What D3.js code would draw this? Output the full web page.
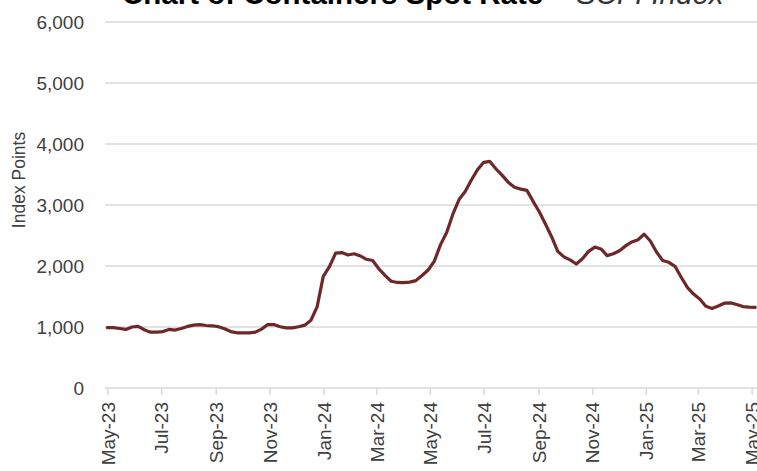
<!DOCTYPE html>
<html>
<head>
<meta charset="utf-8">
<script src="https://cdn.jsdelivr.net/npm/d3@7"></script>
<style>
  html, body { margin: 0; padding: 0; background: #fff; }
  svg { display: block; }
</style>
</head>
<body>
<svg id="chart" width="757" height="471"></svg>
<script>
// ---- Data (SCFI weekly index points) ----
const dates = [
  "2023-05-05","2023-05-12","2023-05-19","2023-05-26","2023-06-02","2023-06-09","2023-06-16","2023-06-23","2023-06-30",
  "2023-07-07","2023-07-14","2023-07-21","2023-07-28","2023-08-04","2023-08-11","2023-08-18","2023-08-25",
  "2023-09-01","2023-09-08","2023-09-15","2023-09-22","2023-09-29","2023-10-06","2023-10-13","2023-10-20","2023-10-27",
  "2023-11-03","2023-11-10","2023-11-17","2023-11-24","2023-12-01","2023-12-08","2023-12-15","2023-12-22","2023-12-29",
  "2024-01-05","2024-01-12","2024-01-19","2024-01-26","2024-02-02","2024-02-09","2024-02-16","2024-02-23",
  "2024-03-01","2024-03-08","2024-03-15","2024-03-22","2024-03-29","2024-04-05","2024-04-12","2024-04-19","2024-04-26",
  "2024-05-03","2024-05-10","2024-05-17","2024-05-24","2024-05-31","2024-06-07","2024-06-14","2024-06-21","2024-06-28",
  "2024-07-05","2024-07-12","2024-07-19","2024-07-26","2024-08-02","2024-08-09","2024-08-16","2024-08-23","2024-08-30",
  "2024-09-06","2024-09-13","2024-09-20","2024-09-27","2024-10-04","2024-10-11","2024-10-18","2024-10-25","2024-11-01",
  "2024-11-08","2024-11-15","2024-11-22","2024-11-29","2024-12-06","2024-12-13","2024-12-20","2024-12-27",
  "2025-01-03","2025-01-10","2025-01-17","2025-01-24","2025-01-31","2025-02-07","2025-02-14","2025-02-21","2025-02-28",
  "2025-03-07","2025-03-14","2025-03-21","2025-03-28","2025-04-04","2025-04-11","2025-04-18","2025-04-25",
  "2025-05-02","2025-05-09"
];
const values = [
  990, 990, 975, 960, 1000, 1010, 955, 915, 915,
  925, 960, 950, 975, 1010, 1030, 1040, 1025,
  1020, 1005, 970, 925, 905, 905, 905, 915, 965,
  1040, 1040, 1005, 985, 985, 1005, 1030, 1110, 1330,
  1830, 1990, 2210, 2220, 2180, 2200, 2165, 2110,
  2090, 1955, 1845, 1750, 1730, 1726, 1735, 1760, 1845,
  1935, 2080, 2350, 2550, 2850, 3090, 3220, 3410, 3580,
  3700, 3715, 3590, 3485, 3370, 3290, 3260, 3240, 3060,
  2890, 2690, 2480, 2240, 2150, 2100, 2033, 2120, 2240,
  2310, 2280, 2170, 2200, 2250, 2330, 2395, 2430,
  2520, 2410, 2230, 2090, 2060, 1995, 1815, 1650, 1540,
  1460, 1340, 1305, 1345, 1390, 1395, 1370, 1335,
  1325, 1323
];
const xTickDates = ["2023-05-05","2023-07-05","2023-09-05","2023-11-05","2024-01-05","2024-03-05",
  "2024-05-05","2024-07-05","2024-09-05","2024-11-05","2025-01-05","2025-03-05","2025-05-05"];
const xTickLabels = ["May-23","Jul-23","Sep-23","Nov-23","Jan-24","Mar-24",
  "May-24","Jul-24","Sep-24","Nov-24","Jan-25","Mar-25","May-25"];
const yTicks = [0, 1000, 2000, 3000, 4000, 5000, 6000];
const titleMain = "Chart of Containers Spot Rate";
const titleSub = " \u2013 SCFI Index";
const yTitle = "Index Points";

// ---- Drawing ----
const parse = d3.timeParse("%Y-%m-%d");
const series = dates.map((d, i) => ({ date: parse(d), value: values[i] }));

const svg = d3.select("#chart");
const font = "'Liberation Sans', Arial, sans-serif";
const textColor = "#404040";
const gridColor = "#d9d9d9";

const x = d3.scaleTime()
  .domain([parse("2023-05-05"), parse("2025-05-05")])
  .range([107.3, 751.7]);
const y = d3.scaleLinear().domain([0, 6000]).range([388, 22]);

// gridlines
svg.append("g").selectAll("line")
  .data(yTicks.filter(t => t > 0))
  .join("line")
  .attr("x1", 105).attr("x2", 757)
  .attr("y1", d => y(d)).attr("y2", d => y(d))
  .attr("stroke", gridColor).attr("stroke-width", 1.5);

// y axis labels
const yAxis = d3.axisLeft(y).tickValues(yTicks).tickFormat(d3.format(",")).tickSize(0).tickPadding(0);
const gy = svg.append("g").attr("transform", "translate(84,0)").call(yAxis);
gy.select(".domain").remove();
gy.selectAll("text")
  .attr("font-family", font).attr("font-size", 19).attr("fill", textColor)
  .attr("dy", "0.36em");

// x axis
const xAxis = d3.axisBottom(x)
  .tickValues(xTickDates.map(parse))
  .tickFormat((d, i) => xTickLabels[i])
  .tickSize(7).tickSizeOuter(0);
const gx = svg.append("g").attr("transform", `translate(0,${y(0)})`).call(xAxis);
gx.select(".domain").attr("d", `M105,0H757`).attr("stroke", gridColor).attr("stroke-width", 1.5);
gx.selectAll(".tick line").attr("stroke", gridColor).attr("stroke-width", 1.5);
gx.selectAll("text")
  .attr("font-family", font).attr("font-size", 19).attr("fill", textColor)
  .attr("text-anchor", "end")
  .attr("transform", "rotate(-90)")
  .attr("x", -14).attr("y", 0).attr("dy", "0.36em");

// line
const line = d3.line().x(d => x(d.date)).y(d => y(d.value));
svg.append("path")
  .datum(series)
  .attr("d", line)
  .attr("fill", "none")
  .attr("stroke", "#6f2828")
  .attr("stroke-width", 3.2)
  .attr("stroke-linejoin", "round")
  .attr("stroke-linecap", "round");

// y axis title
svg.append("text")
  .attr("transform", "translate(25,180) rotate(-90)")
  .attr("text-anchor", "middle")
  .attr("font-family", font).attr("font-size", 17.5).attr("fill", textColor)
  .text(yTitle);

// chart title (cut off at the top, as in the reference)
const title = svg.append("text")
  .attr("x", 122).attr("y", 4)
  .attr("font-family", font).attr("font-size", 29.5).attr("fill", "#000");
title.append("tspan").attr("font-weight", "bold").text(titleMain);
title.append("tspan").attr("font-style", "italic").attr("fill", "#333").text(titleSub);
</script>
</body>
</html>
